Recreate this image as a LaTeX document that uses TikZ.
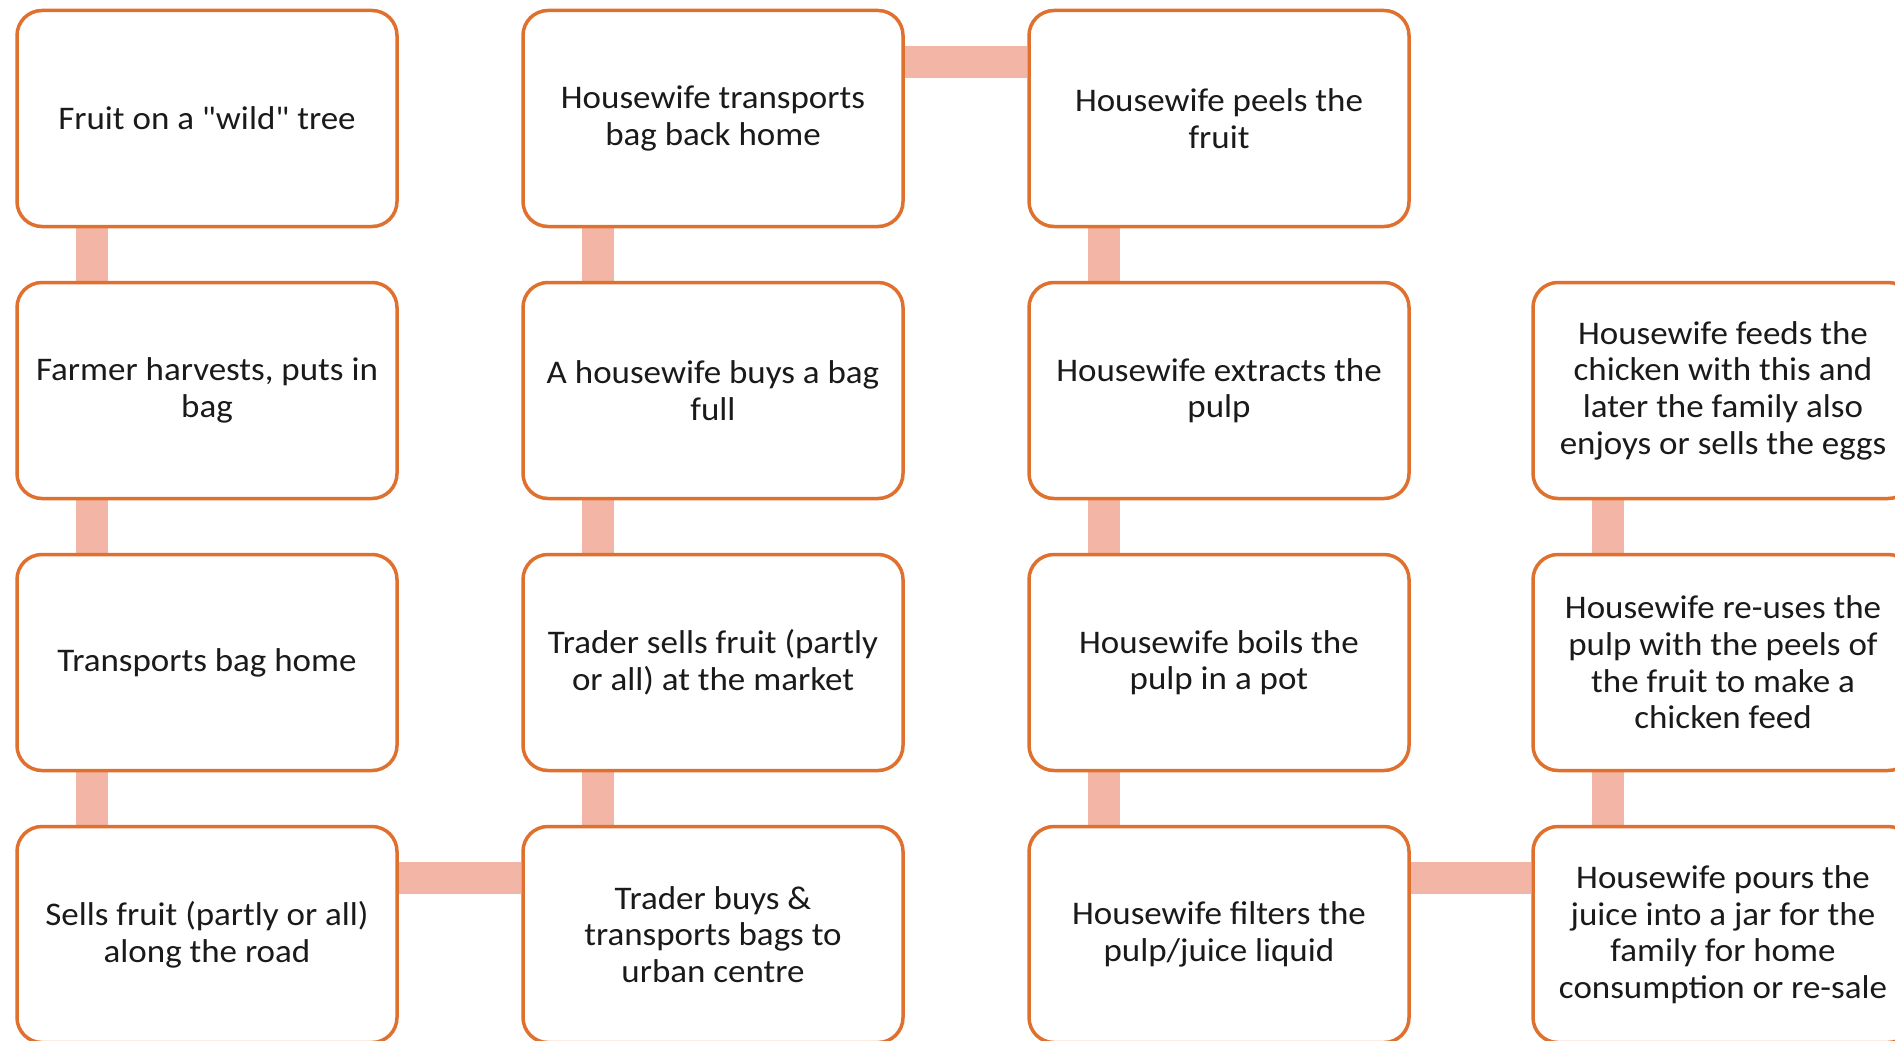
\documentclass[tikz,border=0pt]{standalone}
\usepackage{fontspec}
\setmainfont{Carlito}[FakeStretch=1.06]
\newfontfamily\quotefont{Carlito}[FakeStretch=1.06]
\usetikzlibrary{backgrounds}
\definecolor{boxline}{HTML}{E0702E}
\definecolor{linkc}{HTML}{F3B6A6}
\definecolor{txt}{HTML}{1A1A1A}
\tikzset{
  stepbox/.style={draw=boxline, line width=3.5pt, fill=white, rounded corners=25pt,
    minimum width=380pt, minimum height=216pt, inner sep=0pt, align=center,
    text=txt, font=\fontsize{33}{36.6}\selectfont},
  link/.style={draw=linkc, line width=32pt, line cap=butt}
}
\begin{document}
\begin{tikzpicture}[x=1pt,y=-1pt]
\clip (0,0) rectangle (1895,1041);
% column centres 207, 713, 1219, 1723 ; row centres 118.5, 390.5, 662.5, 934.5
\node[stepbox] (a1) at (207,118.5) {Fruit on a {\quotefont"}wild{\quotefont"} tree};
\node[stepbox] (a2) at (207,390.5) {Farmer harvests, puts in\\bag};
\node[stepbox] (a3) at (207,662.5) {Transports bag home};
\node[stepbox] (a4) at (207,934.5) {Sells fruit (partly or all)\\along the road};
\node[stepbox] (b1) at (713,118.5) {Housewife transports\\bag back home};
\node[stepbox] (b2) at (713,390.5) {A housewife buys a bag\\full};
\node[stepbox] (b3) at (713,662.5) {Trader sells fruit (partly\\or all) at the market};
\node[stepbox] (b4) at (713,934.5) {Trader buys \&\\transports bags to\\urban centre};
\node[stepbox] (c1) at (1219,118.5) {Housewife peels the\\fruit};
\node[stepbox] (c2) at (1219,390.5) {Housewife extracts the\\pulp};
\node[stepbox] (c3) at (1219,662.5) {Housewife boils the\\pulp in a pot};
\node[stepbox] (c4) at (1219,934.5) {Housewife filters the\\pulp/juice liquid};
\node[stepbox] (d2) at (1723,390.5) {Housewife feeds the\\chicken with this and\\later the family also\\enjoys or sells the eggs};
\node[stepbox] (d3) at (1723,662.5) {Housewife re-uses the\\pulp with the peels of\\the fruit to make a\\chicken feed};
\node[stepbox] (d4) at (1723,934.5) {Housewife pours the\\juice into a jar for the\\family for home\\consumption or re-sale};
\begin{scope}[on background layer]
\fill[white] (0,0) rectangle (1895,1041);
\foreach \u/\v in {a1/a2,a2/a3,a3/a4,b1/b2,b2/b3,b3/b4,c1/c2,c2/c3,c3/c4,d2/d3,d3/d4}
  \draw[link] ([xshift=77pt]\u.south west) -- ([xshift=77pt]\v.north west);
\foreach \u/\v in {a4/b4,b1/c1,c4/d4}
  \draw[link] ([yshift=-53pt]\u.north east) -- ([yshift=-53pt]\v.north west);
\end{scope}
\end{tikzpicture}
\end{document}
